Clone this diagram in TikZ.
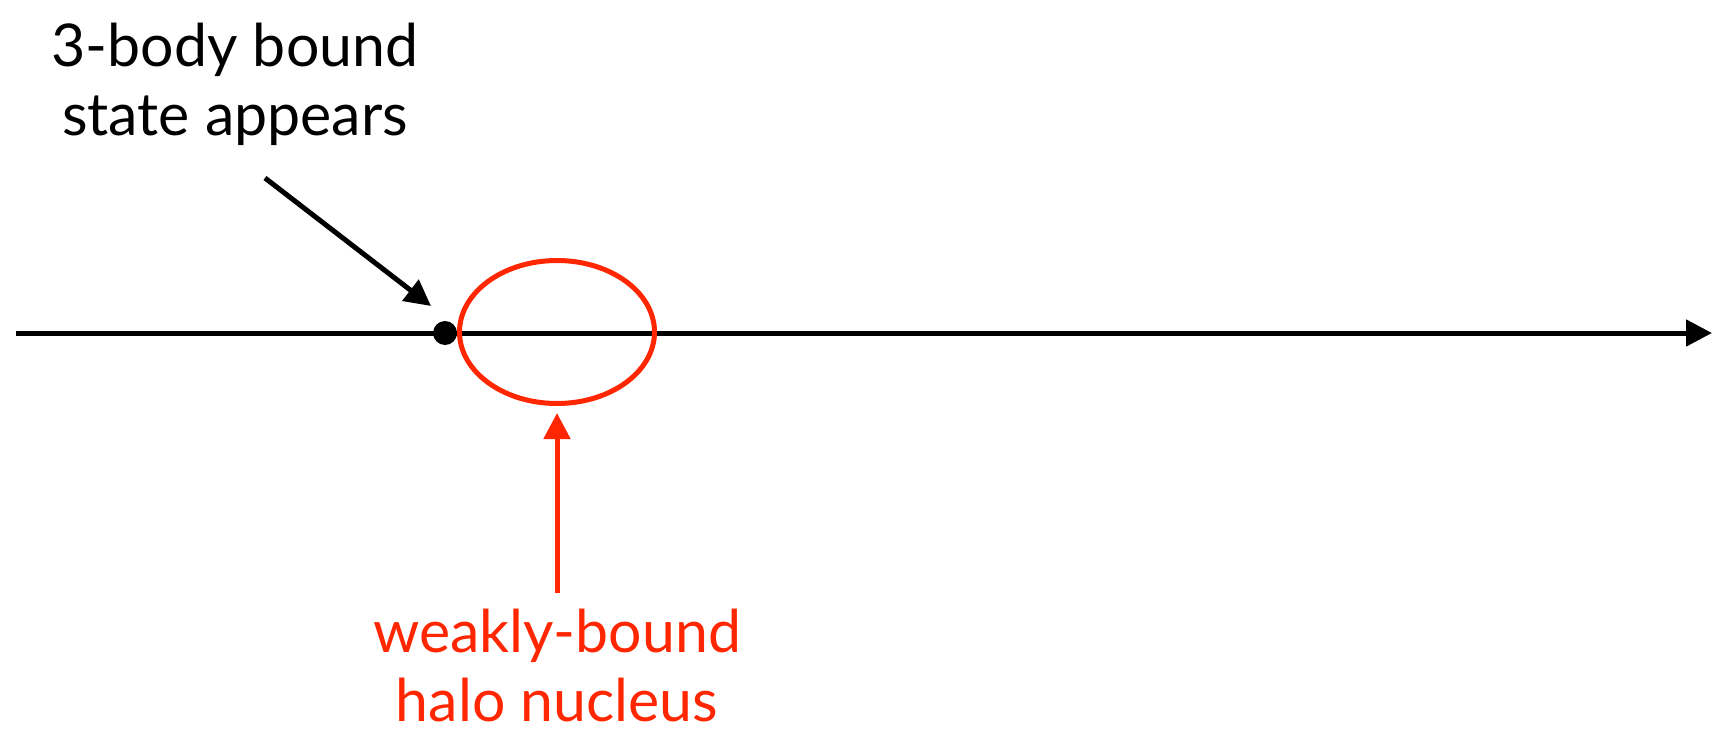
\documentclass[tikz,border=0pt]{standalone}
\usepackage{fontspec}
\setmainfont{Lato}
\usetikzlibrary{arrows.meta,shapes.geometric}
\definecolor{kred}{RGB}{255,38,0}
\begin{document}
\begin{tikzpicture}[x=1pt,y=-1pt,
  thick line/.style={line width=5pt},
  lbl/.style={font=\fontsize{59}{69}\selectfont, align=center, inner sep=0pt},
  tipstyle/.style={-{Triangle[length=26pt,width=26pt]}}]
\useasboundingbox (0,0) rectangle (1712,730);
% axis
\coordinate (axL) at (16,333);
\coordinate (axR) at (1712,333);
\draw[thick line, tipstyle] (axL) -- (axR);
% dot
\node[circle, fill=black, inner sep=0pt, minimum size=24pt] (dot) at (445,333) {};
% ellipse
\node[ellipse, draw=kred, thick line, inner sep=0pt, minimum width=195pt, minimum height=143pt] (halo) at (557,332) {};
% labels
\node[lbl, anchor=base] (three) at (235,136) {3-body bound\\state appears};
\node[lbl, anchor=base, text=kred] (weak) at (557,721) {weakly-bound\\halo nucleus};
% arrows
\coordinate (bs) at (265,178);
\coordinate (be) at (431,306);
\draw[thick line, tipstyle] (bs) -- (be);
\coordinate (rs) at (557,593);
\coordinate (re) at (557,413);
\draw[thick line, kred, tipstyle] (rs) -- (re);
\end{tikzpicture}
\end{document}
